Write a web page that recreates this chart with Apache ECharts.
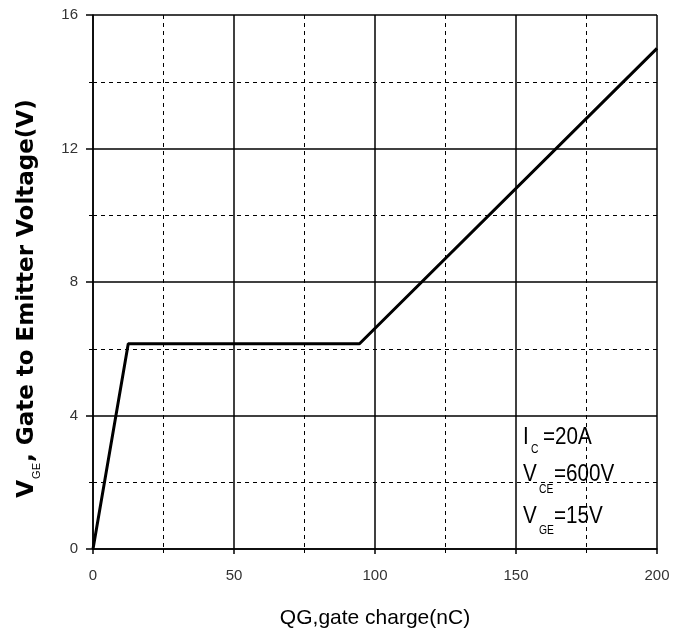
<!DOCTYPE html>
<html>
<head>
<meta charset="utf-8">
<script src="https://cdn.jsdelivr.net/npm/echarts@6/dist/echarts.min.js"></script>
<style>
  html, body { margin: 0; padding: 0; background: #fff; }
  #main { width: 683px; height: 637px; }
</style>
</head>
<body>
<div id="main"></div>
<script>
  // gate charge curve
  var qg = [0, 12.5, 94.5, 200];
  var vge = [0, 6.15, 6.15, 15];
  var xTicks = [0, 50, 100, 150, 200];
  var yTicks = [0, 4, 8, 12, 16];

  var sans = "'Liberation Sans', Arial, sans-serif";
  var wide = "'DejaVu Sans', Verdana, sans-serif";

  var chart = echarts.init(document.getElementById('main'));

  var pts = [];
  for (var i = 0; i < qg.length; i++) {
    pts.push([qg[i], vge[i]]);
  }

  // annotation text, condensed a bit like the original narrow font
  function note(txt, x, y, size) {
    return {
      type: 'text', x: x, y: y, scaleX: 0.86,
      style: { text: txt, font: size + 'px ' + sans, fill: '#000', textVerticalAlign: 'top' }
    };
  }

  var option = {
    animation: false,
    backgroundColor: '#fff',
    grid: { left: 93, right: 26, top: 15, bottom: 88 },
    xAxis: {
      type: 'value',
      min: xTicks[0],
      max: xTicks[xTicks.length - 1],
      interval: 50,
      name: 'QG,gate charge(nC)',
      nameLocation: 'middle',
      nameGap: 59,
      nameTextStyle: { fontFamily: sans, fontSize: 21, color: '#000' },
      axisLine: { lineStyle: { color: '#000', width: 1.5 } },
      axisTick: { length: 5, lineStyle: { color: '#000', width: 1.5 } },
      minorTick: { show: true, splitNumber: 2, length: 4, lineStyle: { color: '#000' } },
      axisLabel: { margin: 19, fontFamily: sans, fontSize: 15, color: '#333' },
      splitLine: { show: true, lineStyle: { color: '#000', width: 1.5 } },
      minorSplitLine: { show: true, lineStyle: { color: '#000', width: 1, type: [4, 4] } }
    },
    yAxis: {
      type: 'value',
      min: yTicks[0],
      max: yTicks[yTicks.length - 1],
      interval: 4,
      name: '{v|V}{s|GE}{e|, Gate to Emitter Voltage(V)}',
      nameLocation: 'middle',
      nameGap: 51,
      nameTextStyle: {
        rich: {
          v: { fontFamily: wide, fontWeight: 'bold', fontSize: 23, color: '#000', lineHeight: 26, verticalAlign: 'top' },
          e: { fontFamily: wide, fontWeight: 'bold', fontSize: 23, color: '#000', lineHeight: 26, verticalAlign: 'top', padding: [0, 33, 0, 0] },
          s: { fontFamily: sans, fontSize: 11, color: '#000', lineHeight: 12, verticalAlign: 'bottom', padding: [16, 1, 0, 1] }
        }
      },
      axisLine: { lineStyle: { color: '#000', width: 1.5 } },
      axisTick: { length: 7, lineStyle: { color: '#000', width: 1.5 } },
      minorTick: { show: true, splitNumber: 2, length: 4, lineStyle: { color: '#000' } },
      axisLabel: { margin: 15, fontFamily: sans, fontSize: 15, color: '#333' },
      splitLine: { show: true, lineStyle: { color: '#000', width: 1.5 } },
      minorSplitLine: { show: true, lineStyle: { color: '#000', width: 1, type: [4, 4] } }
    },
    series: [{
      type: 'line',
      data: pts,
      showSymbol: false,
      lineStyle: { color: '#000', width: 3 },
      z: 5
    }],
    graphic: [
      note('I', 523, 425, 24),
      note('C', 531, 444, 12),
      note('=20A', 543, 425, 24),
      note('V', 523, 462, 24),
      note('CE', 539, 484, 12),
      note('=600V', 554, 462, 24),
      note('V', 523, 504, 24),
      note('GE', 539, 525, 12),
      note('=15V', 554, 504, 24)
    ]
  };

  chart.setOption(option);
</script>
</body>
</html>
